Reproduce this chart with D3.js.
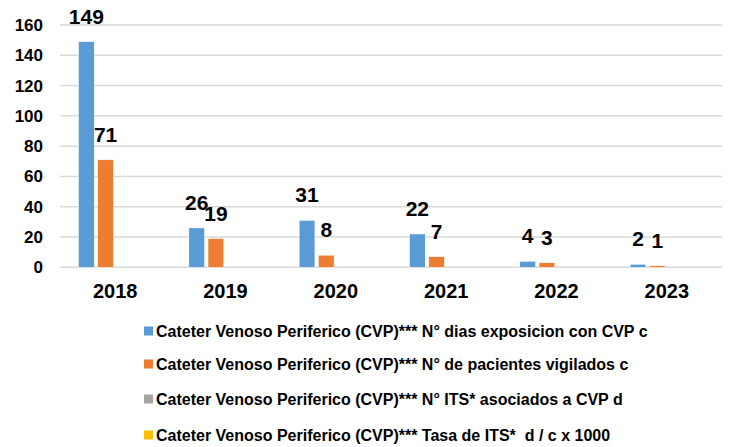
<!DOCTYPE html>
<html>
<head>
<meta charset="utf-8">
<script src="https://cdn.jsdelivr.net/npm/d3@7"></script>
<style>
  body { margin: 0; background: #fff; }
  text { font-family: "Liberation Sans", Arial, sans-serif; font-weight: bold; }
</style>
</head>
<body>
<div id="chart-container"></div>
<script>
// Data for the chart
const years = ["2018", "2019", "2020", "2021", "2022", "2023"];
const seriesNames = [
  "Cateter Venoso Periferico (CVP)*** N° dias exposicion con CVP c",
  "Cateter Venoso Periferico (CVP)*** N° de pacientes vigilados c",
  "Cateter Venoso Periferico (CVP)*** N° ITS* asociados a CVP d",
  "Cateter Venoso Periferico (CVP)*** Tasa de ITS*  d / c x 1000"
];
const diasExposicion = [149, 26, 31, 22, 4, 2];
const pacientesVigilados = [71, 19, 8, 7, 3, 1];
const itsAsociados = [0, 0, 0, 0, 0, 0];
const tasaIts = [0, 0, 0, 0, 0, 0];
const yTicks = [0, 20, 40, 60, 80, 100, 120, 140, 160];
const colors = ["#5B9BD5", "#ED7D31", "#A5A5A5", "#FFC000"];

const allValues = [diasExposicion, pacientesVigilados, itsAsociados, tasaIts];
const showLabels = [true, true, false, false];

const W = 730, H = 447;
const plot = { left: 60, right: 722, top: 25, bottom: 267.3 };

const svg = d3.select("#chart-container")
  .append("svg")
  .attr("width", W)
  .attr("height", H);

// Scales
const x = d3.scaleBand()
  .domain(years)
  .range([plot.left, plot.right]);

const xs = d3.scaleBand()
  .domain(d3.range(seriesNames.length))
  .range([18.5, x.bandwidth() - 18.5])
  .paddingInner(0.18);

const y = d3.scaleLinear()
  .domain([0, 160])
  .range([plot.bottom, plot.top]);

// Gridlines
svg.append("g")
  .selectAll("line")
  .data(yTicks)
  .enter()
  .append("line")
  .attr("x1", plot.left)
  .attr("x2", plot.right)
  .attr("y1", d => y(d))
  .attr("y2", d => y(d))
  .attr("stroke", "#D9D9D9")
  .attr("stroke-width", 1.5);

// Y axis
const yAxis = svg.append("g")
  .attr("transform", `translate(${plot.left},0)`)
  .call(d3.axisLeft(y).tickValues(yTicks).tickSize(0).tickPadding(17));
yAxis.selectAll("text")
  .style("font-size", "17px")
  .attr("fill", "#000");

// X axis
const xAxis = svg.append("g")
  .attr("transform", `translate(0,${plot.bottom})`)
  .call(d3.axisBottom(x).tickSize(0).tickPadding(17));
xAxis.selectAll("text")
  .style("font-size", "20px")
  .attr("fill", "#000");

svg.selectAll(".domain").remove();

// Bars
const rows = [];
allValues.forEach((vals, s) => {
  vals.forEach((v, i) => rows.push({ year: years[i], s, v }));
});

svg.selectAll(".bar")
  .data(rows)
  .enter()
  .append("rect")
  .attr("class", "bar")
  .attr("x", d => x(d.year) + xs(d.s))
  .attr("width", xs.bandwidth())
  .attr("y", d => y(d.v))
  .attr("height", d => y(0) - y(d.v))
  .attr("fill", d => colors[d.s])
  .attr("stroke", "#fff")
  .attr("stroke-width", 0.5);

// Data labels
svg.selectAll(".label")
  .data(rows.filter(d => showLabels[d.s]))
  .enter()
  .append("text")
  .attr("class", "label")
  .attr("x", d => x(d.year) + xs(d.s) + xs.bandwidth() / 2)
  .attr("y", d => y(d.v) - 18)
  .attr("text-anchor", "middle")
  .style("font-size", "21px")
  .attr("fill", "#000")
  .text(d => d.v);

// Legend
const legendY = [331, 364, 399, 435];
const legend = svg.selectAll(".legend")
  .data(seriesNames)
  .enter()
  .append("g")
  .attr("class", "legend")
  .attr("transform", (d, i) => `translate(144,${legendY[i]})`);

legend.append("rect")
  .attr("x", 0)
  .attr("y", -4.5)
  .attr("width", 9)
  .attr("height", 9)
  .attr("fill", (d, i) => colors[i]);

legend.append("text")
  .attr("x", 12)
  .attr("y", 0)
  .attr("dy", "0.35em")
  .style("font-size", "16px")
  .style("white-space", "pre")
  .attr("fill", "#000")
  .text(d => d);
</script>
</body>
</html>
